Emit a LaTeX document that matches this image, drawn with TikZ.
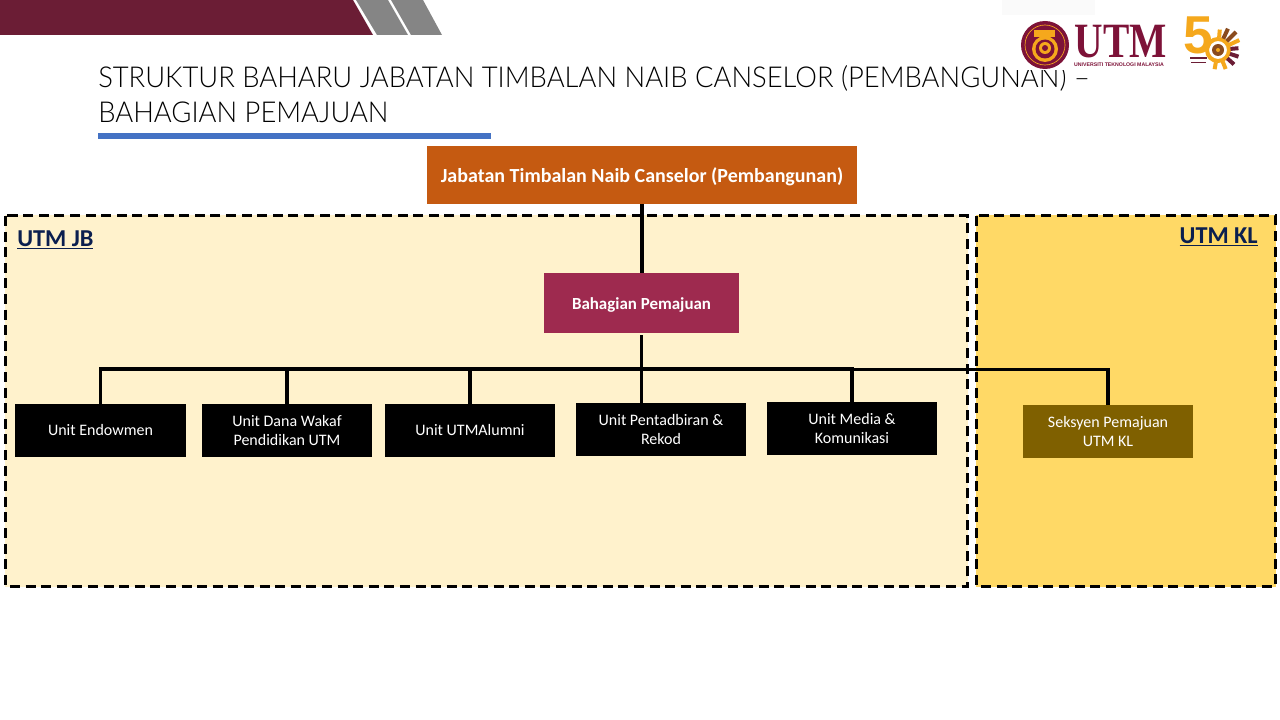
\documentclass[tikz,border=0pt]{standalone}
\usepackage{fontspec}
\setmainfont{Carlito}
\newfontfamily\titlefont{Lato Light}
\newfontfamily\logoserif{Liberation Serif}
\newfontfamily\logosans{Liberation Sans}
\definecolor{maroon}{HTML}{6B1D35}
\definecolor{logomaroon}{HTML}{7D1238}
\definecolor{stripe}{HTML}{858585}
\definecolor{rulecol}{HTML}{4472C4}
\definecolor{topcol}{HTML}{C55A11}
\definecolor{bahcol}{HTML}{9E2A4F}
\definecolor{jbfill}{HTML}{FFF2CC}
\definecolor{klfill}{HTML}{FFD966}
\definecolor{klbox}{HTML}{7F6000}
\definecolor{navy}{HTML}{0B1F4F}
\definecolor{gold}{HTML}{F5A81C}
\definecolor{lionbrown}{HTML}{8A4B1E}
\tikzset{
  x=0.75pt,y=-0.75pt,
  region/.style={draw=black,line width=2.25pt,dash pattern=on 7.5pt off 4.2pt},
  box/.style={anchor=north west,inner sep=0pt,outer sep=0pt,align=center,text=white},
  unitbox/.style={box,fill=black,font=\fontsize{12pt}{14.2pt}\selectfont},
  link/.style={draw=black,line width=2.5pt},
  linkthick/.style={draw=black,line width=3pt},
  regionlabel/.style={text=navy,font=\fontsize{18.2pt}{20pt}\selectfont\bfseries,inner sep=0pt},
  titletext/.style={anchor=base west,inner sep=0pt,xscale=0.95,font=\titlefont\fontsize{21.6pt}{28pt}\selectfont},
}
\newcommand{\ul}[1]{\underline{#1}}
\begin{document}
\begin{tikzpicture}
\useasboundingbox (0,0) rectangle (1280,720);
% header band
\fill[maroon] (0,0) -- (353,0) -- (373,35) -- (0,35) -- cycle;
\fill[stripe] (356,0) -- (388,0) -- (408,35) -- (377,35) -- cycle;
\fill[stripe] (391,0) -- (423,0) -- (442,35) -- (411,35) -- cycle;
% title
\node[titletext] (title1) at (98,88) {STRUKTUR BAHARU JABATAN TIMBALAN NAIB CANSELOR (PEMBANGUNAN) –};
\node[titletext] (title2) at (98,123) {BAHAGIAN PEMAJUAN};
\fill[rulecol] (98,133) rectangle (491,139);
% logo
\fill[white] (1010,15) rectangle (1246,70);
\fill[black!2] (1002,0) rectangle (1095,15);
\fill[logomaroon] (1045,45) circle[radius=24];
\draw[gold,line width=0.5pt] (1045,45) circle[radius=20];
\fill[gold] (1034,30) rectangle (1055,37);
\fill[gold] (1045,37) rectangle (1049,44);
\fill[gold] (1045,49) circle[radius=13];
\fill[logomaroon] (1045,49) circle[radius=9.5];
\fill[gold] (1045,48) circle[radius=6];
\fill[logomaroon] (1045,48) circle[radius=3];
\node[inner sep=0pt,anchor=base,text=logomaroon,xscale=0.8,font=\logoserif\bfseries\fontsize{37pt}{37pt}\selectfont] (utm) at (1121,58) {UTM};
\node[inner sep=0pt,text=logomaroon,font=\logosans\bfseries\fontsize{3.9pt}{5pt}\selectfont] (utmname) at (1119,64.5) {UNIVERSITI TEKNOLOGI MALAYSIA};
\node[inner sep=0pt,anchor=base,text=gold,font=\logosans\bfseries\fontsize{40pt}{40pt}\selectfont] (fifty) at (1198,54) {5};
\draw[gold,line width=3pt] (1218,50) circle[radius=11];
\fill[lionbrown] (1218,50) circle[radius=6];
\fill[gold] (1218,50) circle[radius=2];
\foreach \a/\l/\c in {-85/8/gold,-65/11/lionbrown,-45/13/lionbrown,-25/11/gold,-5/8/maroon,18/9/maroon,42/9/maroon,68/8/gold,100/7/gold}{
  \draw[\c,line width=3pt] (1218,50) ++(\a:12.5) -- ++(\a:\l);
}
\fill[maroon] (1190,57.5) rectangle (1207,59);
\fill[maroon] (1191,62) rectangle (1206,63.5);
% regions
\fill[jbfill] (5,215) rectangle (968,587);
\fill[klfill] (976,215) rectangle (1276,587);
\draw[region] (5.5,216) rectangle (967.5,586);
\draw[region] (976.5,216) rectangle (1275.5,586);
\node[regionlabel,anchor=base west] (jb) at (17,246.5) {\ul{UTM JB}};
\node[regionlabel,anchor=base east] (kl) at (1258,243.5) {\ul{UTM KL}};
% boxes
\node[box,fill=topcol,minimum width=322.5pt,minimum height=43.5pt,font=\fontsize{15pt}{18pt}\selectfont\bfseries] (top) at (427,146) {\rule{0pt}{13.4pt}Jabatan Timbalan Naib Canselor (Pembangunan)};
\node[box,fill=bahcol,minimum width=146.25pt,minimum height=45pt,font=\fontsize{12.7pt}{14pt}\selectfont\bfseries] (bah) at (544,273) {\rule{0pt}{11.4pt}Bahagian Pemajuan};
\node[unitbox,minimum width=128.25pt,minimum height=39.75pt] (u1) at (15,404) {Unit Endowmen};
\node[unitbox,minimum width=127.5pt,minimum height=39.75pt] (u2) at (202,404) {Unit Dana Wakaf\\Pendidikan UTM};
\node[unitbox,minimum width=127.5pt,minimum height=39.75pt] (u3) at (385,404) {Unit UTMAlumni};
\node[unitbox,minimum width=127.5pt,minimum height=39.75pt] (u4) at (576,403) {Unit Pentadbiran \&\\Rekod};
\node[unitbox,minimum width=127.5pt,minimum height=39.75pt] (u5) at (767,402) {Unit Media \&\\Komunikasi};
\node[unitbox,fill=klbox,minimum width=127.5pt,minimum height=39.75pt] (u6) at (1023,405) {Seksyen Pemajuan\\UTM KL};
% connectors
\coordinate (bus) at (641,369);
\draw[linkthick] (bah.north |- top.south) -- (bah.north);
\draw[link] (bah.south) ++(0,2) -- (bah.south |- u4.north);
\draw[link] (u1.north) |- (bus);
\draw[link] (u2.north) -- (u2.north |- bus);
\draw[link] (u3.north) -- (u3.north |- bus);
\draw[link] (bus) -| (u5.north);
\draw[link] (u5.north |- bus) ++(0,0.8) -| (u6.north);
\end{tikzpicture}
\end{document}
